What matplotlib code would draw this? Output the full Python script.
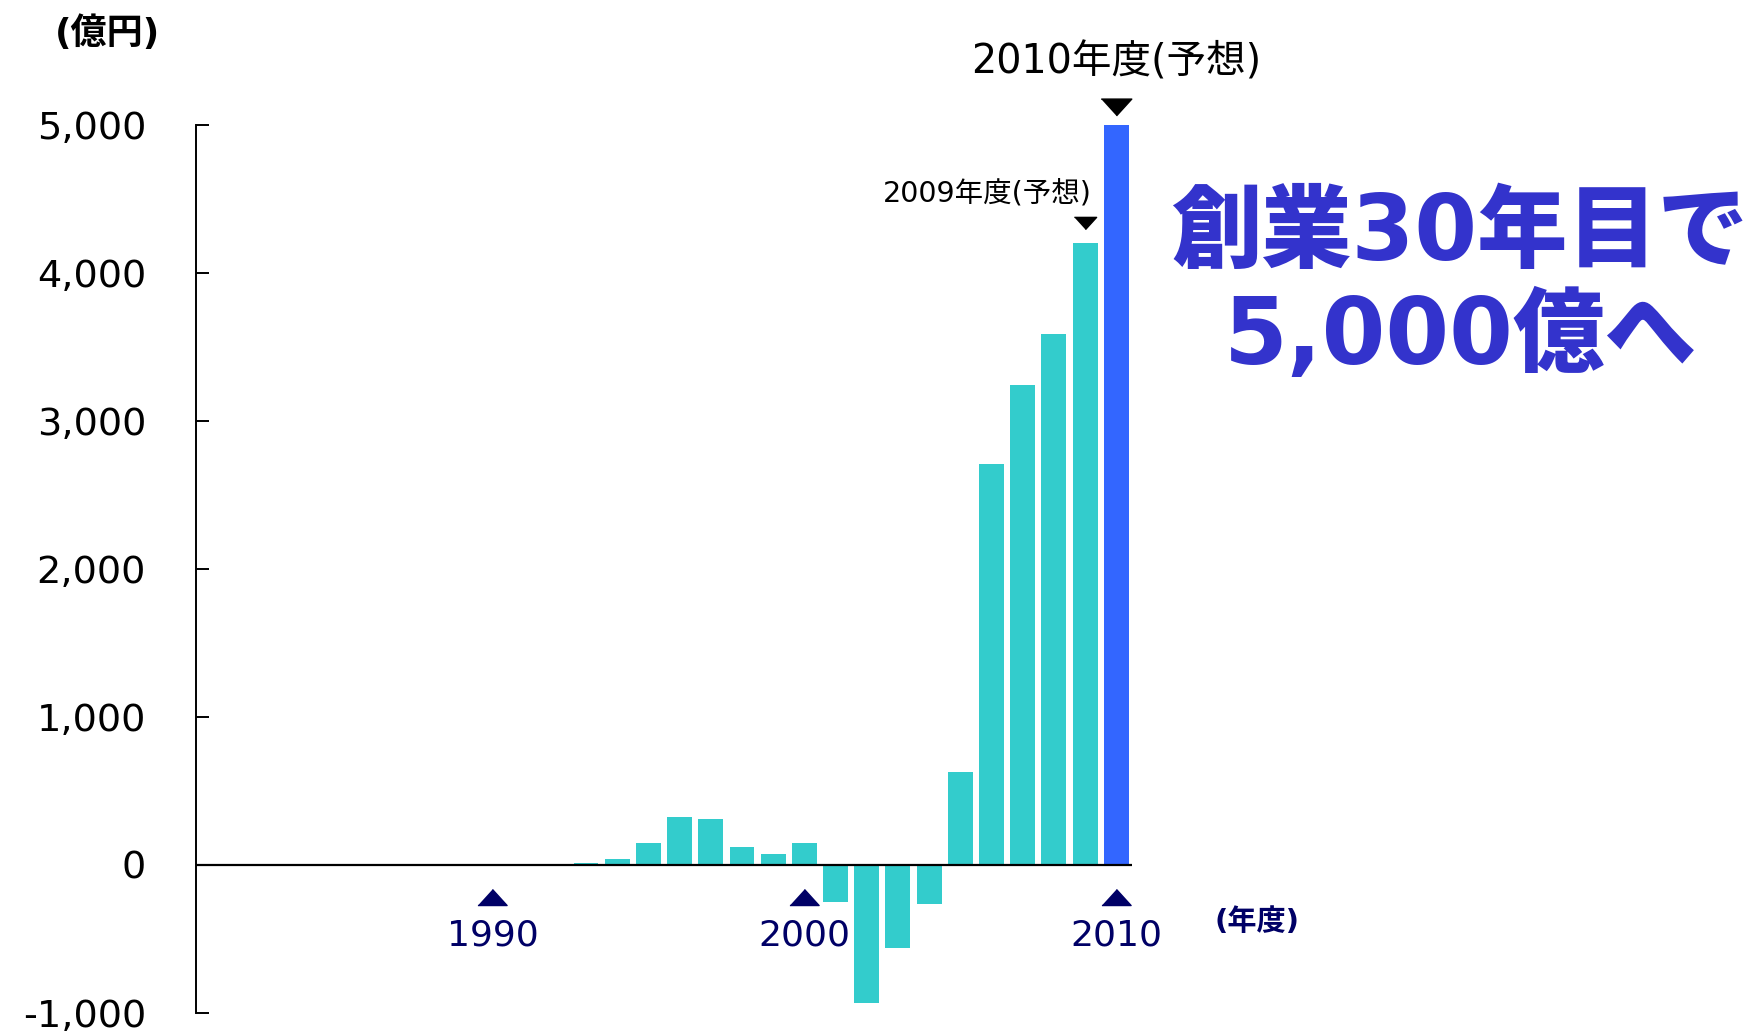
import matplotlib
matplotlib.use("Agg")
import matplotlib.pyplot as plt
import numpy as np

plt.rcParams['font.family'] = ['DejaVu Sans', 'Noto Sans CJK JP']

# 営業利益の推移 (億円), 1981年度〜2010年度
years = list(range(1981, 2011))
profit = [0, 0, 0, 0, 0, 0, 0, 0, 4, 0,
          5, 5, 16, 43, 145, 322, 308, 118, 72, 151,
          -250, -932, -560, -262, 625, 2711, 3245, 3584, 4200, 5000]
forecast_years = [2009, 2010]
marked_years = [1990, 2000, 2010]
yticks = [-1000, 0, 1000, 2000, 3000, 4000, 5000]

TEAL = '#33cccc'
BLUE = '#3366ff'
NAVY = '#000066'
PURPLE = '#3333cc'

fig = plt.figure(figsize=(17.46, 10.33), dpi=100)
ax = fig.add_axes([0.1123, 0.0194, 0.536, 0.8599])

colors = [BLUE if y == 2010 else TEAL for y in years]
ax.bar(years, profit, width=0.8, color=colors, zorder=2)
ax.axhline(0, color='black', lw=1.6, zorder=3)

ax.set_xlim(1980.5, 2010.5)
ax.set_ylim(-1000, 5000)
ax.set_yticks(yticks)
ax.set_yticklabels([f'{v:,}' for v in yticks], fontsize=27.5)
ax.tick_params(axis='y', direction='in', length=9.5, width=1.4, pad=36)
ax.set_xticks([])
for side in ('top', 'right', 'bottom'):
    ax.spines[side].set_visible(False)
ax.spines['left'].set_linewidth(1.4)

# 年の目印 (▲ と年)
tri_up = [(-1, -0.55), (1, -0.55), (0, 0.55)]
tri_down = [(-1, 0.55), (1, 0.55), (0, -0.55)]
ax.plot(marked_years, [-215] * len(marked_years), linestyle='none',
        marker=tri_up, markersize=21, color=NAVY, clip_on=False)
for y in marked_years:
    ax.text(y, -475, str(y), ha='center', va='center', fontsize=26,
            color=NAVY, clip_on=False)
ax.text(2014.5, -385, '(年度)', ha='center', va='center', fontsize=21,
        fontweight='bold', color=NAVY, clip_on=False)

# 予想の注記
idx = {y: i for i, y in enumerate(years)}
p09 = profit[idx[2009]]
p10 = profit[idx[2010]]
ax.plot([2009], [p09 + 135], linestyle='none', marker=tri_down,
        markersize=16, color='black', clip_on=False)
ax.text(2009.2, p09 + 335, '2009年度(予想)', ha='right', va='center',
        fontsize=20.5, color='black', clip_on=False)
ax.plot([2010], [p10 + 120], linestyle='none', marker=tri_down,
        markersize=22, color='black', clip_on=False)
ax.text(2010, p10 + 420, '2010年度(予想)', ha='center', va='center',
        fontsize=28.5, color='black', clip_on=False)

fig.text(108 / 1746, 1 - 33 / 1033, '(億円)', ha='center', va='center',
         fontsize=26, fontweight='bold')

fig.text(1460 / 1746, 1 - 235 / 1033, '創業30年目で', ha='center', va='center',
         fontsize=65, fontweight='black', color=PURPLE)
fig.text(1460 / 1746, 1 - 337 / 1033, '5,000億へ', ha='center', va='center',
         fontsize=66, fontweight='black', color=PURPLE)

fig.savefig('out.png', dpi=100)
